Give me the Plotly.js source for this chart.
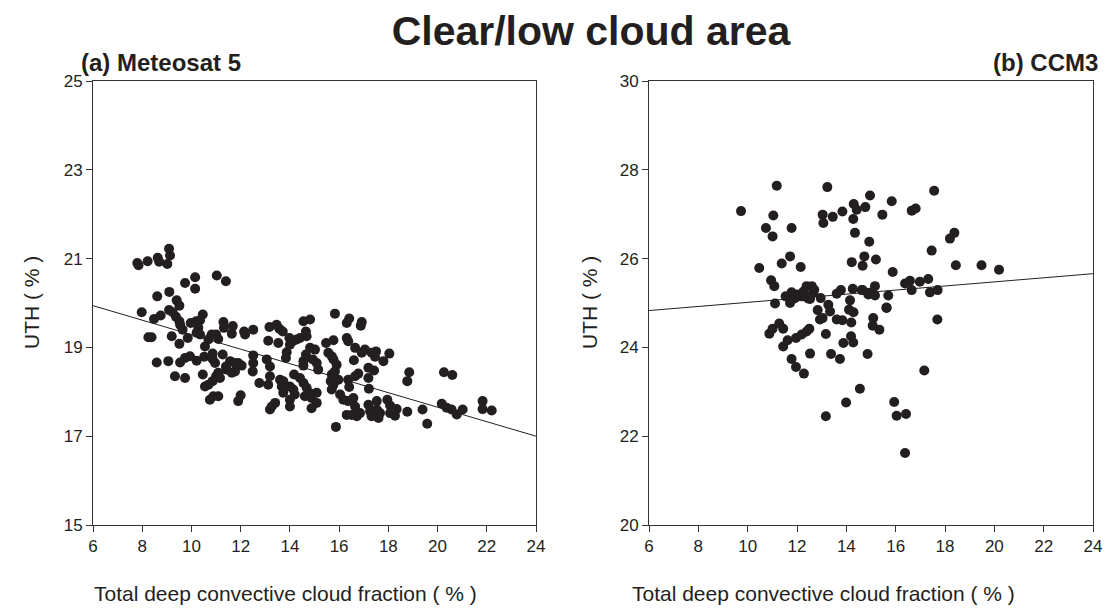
<!DOCTYPE html>
<html>
<head>
<meta charset="utf-8">
<script src="https://cdn.plot.ly/plotly-3.0.1.min.js"></script>
<style>html,body{margin:0;padding:0;background:#fff;}#chart{width:1110px;height:611px;}</style>
</head>
<body>
<div id="chart"></div>
<script>
// (a) Meteosat 5 scatter
const metX = [7.8,7.85,8.22,8.63,8.69,9.09,9.13,9.02,9.74,10.15,10.15,11.03,11.4,8.61,9.1,9.4,9.51,7.98,8.48,8.75,9.09,9.24,9.37,9.51,9.54,9.64,9.97,10.19,10.35,10.46,10.28,10.21,10.35,8.25,8.38,9.2,9.51,9.85,10.55,10.69,10.82,11.0,11.09,11.3,11.32,11.68,11.64,12.14,12.18,12.51,13.17,13.46,13.57,13.71,13.12,13.53,13.98,14.12,14.0,13.87,13.84,14.55,14.82,14.65,14.68,14.41,14.28,14.82,15.02,14.65,14.55,14.55,14.93,15.09,15.15,8.59,9.06,9.54,9.74,9.94,10.21,10.52,10.86,10.86,10.96,11.27,11.4,11.57,11.77,11.9,12.04,11.43,11.77,11.64,11.09,11.0,10.86,10.69,10.55,11.16,9.33,9.74,10.46,10.75,10.89,11.09,12.0,11.9,12.51,12.51,12.49,13.06,13.19,13.19,13.12,12.76,13.6,13.73,13.67,13.73,13.26,13.4,13.19,14.0,14.14,14.2,14.0,14.0,14.17,14.41,14.55,14.68,14.82,14.61,14.88,14.88,15.09,15.09,15.83,16.41,16.31,16.92,16.88,15.77,15.47,16.31,16.37,16.65,16.92,17.05,17.32,17.5,17.46,18.04,17.8,16.6,15.56,15.7,15.77,15.9,15.83,15.7,15.66,15.77,15.7,15.97,16.37,16.65,16.78,16.41,17.19,17.42,17.19,17.21,16.04,16.17,16.37,16.58,16.65,16.31,16.51,16.72,16.85,17.19,17.26,17.32,17.53,17.53,17.66,17.6,17.96,18.07,18.2,18.34,18.27,18.07,18.77,19.39,19.58,18.85,18.77,20.26,20.6,20.17,20.37,20.57,20.78,21.02,21.83,21.83,22.2,15.87];
const metY = [20.9,20.85,20.94,21.02,20.93,21.22,21.07,20.88,20.45,20.58,20.32,20.62,20.49,20.15,20.25,20.06,19.94,19.79,19.64,19.72,19.84,19.79,19.69,19.59,19.51,19.4,19.55,19.59,19.61,19.74,19.44,19.33,19.29,19.23,19.23,19.25,19.08,19.21,19.02,19.18,19.29,19.29,19.19,19.57,19.44,19.48,19.31,19.36,19.29,19.4,19.46,19.51,19.42,19.36,19.15,19.1,19.21,19.14,19.06,18.89,18.76,19.59,19.63,19.36,19.25,19.21,19.18,18.99,18.95,18.84,18.69,18.59,18.73,18.65,18.5,18.66,18.69,18.66,18.76,18.8,18.7,18.79,18.86,18.74,18.65,18.84,18.57,18.69,18.65,18.65,18.59,18.5,18.46,18.43,18.43,18.35,18.24,18.16,18.12,18.31,18.35,18.31,18.39,17.82,17.9,17.9,17.92,17.79,18.82,18.65,18.46,18.73,18.57,18.35,18.16,18.2,18.27,18.24,18.12,17.98,17.67,17.75,17.6,18.12,18.05,17.94,17.82,17.67,18.39,18.31,18.2,18.09,17.97,17.9,17.86,17.63,17.75,17.98,19.76,19.65,19.55,19.57,19.49,19.16,19.1,19.21,19.14,18.99,18.88,18.95,18.88,18.91,18.79,18.86,18.69,18.71,18.88,18.8,18.73,18.61,18.46,18.39,18.24,18.16,18.05,18.27,18.27,18.35,18.41,18.11,18.54,18.48,18.31,18.07,17.94,17.82,17.79,17.86,17.67,17.48,17.48,17.45,17.52,17.71,17.56,17.45,17.79,17.6,17.52,17.41,17.82,17.69,17.6,17.61,17.46,17.52,17.55,17.6,17.28,18.44,18.24,18.44,18.38,17.73,17.64,17.6,17.49,17.6,17.79,17.61,17.58,17.21];
const metFitX = [6, 24];
const metFitY = [19.94, 17.0];

// (b) CCM3 scatter
const ccmX = [9.73,11.18,11.04,10.74,11.01,11.78,13.23,13.04,13.07,13.45,13.84,14.3,14.42,14.77,14.28,14.35,14.96,14.93,10.47,11.38,11.72,12.15,14.22,14.66,14.73,10.95,11.08,11.54,11.78,11.99,12.26,12.39,12.6,12.66,12.53,12.19,12.05,11.72,11.11,12.96,13.27,13.34,12.84,12.93,13.04,13.61,13.78,14.26,14.66,14.93,14.15,14.11,14.29,13.61,13.84,14.2,13.17,14.19,10.88,11.01,11.28,11.44,11.62,11.44,11.96,12.19,12.39,12.5,13.88,14.28,11.78,11.96,12.28,12.53,13.38,13.74,14.86,14.55,13.99,13.17,15.94,16.04,16.42,16.38,15.09,15.07,15.34,15.63,17.69,17.16,15.84,15.46,16.65,16.81,17.56,15.2,18.38,18.2,17.46,15.88,18.44,19.48,20.19,16.38,16.58,16.98,17.32,16.65,17.39,17.7,15.16,15.7,15.63,14.62,14.89,15.16,12.3,12.45,11.9,12.7];
const ccmY = [27.07,27.64,26.97,26.69,26.5,26.69,27.61,26.99,26.8,26.94,27.06,27.23,27.1,27.16,26.89,26.58,27.42,26.38,25.79,25.89,26.05,25.81,25.92,25.84,26.05,25.51,25.38,25.15,25.24,25.19,25.26,25.38,25.38,25.23,25.09,25.15,25.15,25.0,24.99,25.11,24.96,24.81,24.84,24.63,24.66,25.21,25.29,25.32,25.29,25.23,25.06,24.85,24.79,24.63,24.61,24.56,24.3,24.25,24.31,24.42,24.54,24.42,24.16,24.02,24.21,24.29,24.36,24.42,24.1,24.11,23.74,23.56,23.41,23.86,23.85,23.74,23.85,23.07,22.76,22.45,22.77,22.46,22.5,21.62,24.66,24.49,24.4,24.89,24.63,23.48,27.29,26.99,27.08,27.13,27.53,25.98,26.58,26.45,26.18,25.7,25.85,25.85,25.75,25.44,25.5,25.48,25.54,25.29,25.24,25.29,25.38,25.17,24.9,25.29,25.19,25.17,25.2,25.1,25.1,25.3];
const ccmFitX = [6, 24];
const ccmFitY = [24.83, 25.66];

const xTicks = [6, 8, 10, 12, 14, 16, 18, 20, 22, 24];
const metYTicks = [15, 17, 19, 21, 23, 25];
const ccmYTicks = [20, 22, 24, 26, 28, 30];

const INK = '#231f20';
const FONT = 'Arial, "Liberation Sans", Helvetica, sans-serif';
const W = 1110, H = 611;
const px = v => v / W, py = v => 1 - v / H;

const dot = {size: 10, color: INK};
const traces = [
  {x: metX, y: metY, type: 'scatter', mode: 'markers', marker: dot, xaxis: 'x', yaxis: 'y', hoverinfo: 'x+y'},
  {x: metFitX, y: metFitY, type: 'scatter', mode: 'lines', line: {color: INK, width: 1}, xaxis: 'x', yaxis: 'y'},
  {x: ccmX, y: ccmY, type: 'scatter', mode: 'markers', marker: dot, xaxis: 'x2', yaxis: 'y2', hoverinfo: 'x+y'},
  {x: ccmFitX, y: ccmFitY, type: 'scatter', mode: 'lines', line: {color: INK, width: 1}, xaxis: 'x2', yaxis: 'y2'}
];

function xax(dom, anchor) {
  return {domain: dom, anchor: anchor, range: [6, 24], tickvals: xTicks, ticks: 'outside', ticklen: 6,
    tickcolor: '#333', showline: true, linecolor: '#333', linewidth: 1, mirror: true,
    showgrid: false, zeroline: false, tickfont: {family: FONT, size: 17, color: INK}};
}
function yax(dom, anchor, rng, tv) {
  return {domain: dom, anchor: anchor, range: rng, tickvals: tv, ticks: 'outside', ticklen: 6,
    tickcolor: '#333', showline: true, linecolor: '#333', linewidth: 1, mirror: true,
    showgrid: false, zeroline: false, tickfont: {family: FONT, size: 17, color: INK}};
}
const yDom = [py(525), py(81)];

const layout = {
  width: W, height: H,
  margin: {l: 0, r: 0, t: 0, b: 0},
  paper_bgcolor: '#fff', plot_bgcolor: '#fff',
  showlegend: false,
  title: {text: '<b>Clear/low cloud area</b>', x: px(591), xanchor: 'center', y: py(31), yanchor: 'middle',
    font: {family: FONT, size: 41, color: INK}},
  xaxis: xax([px(93), px(536)], 'y'),
  yaxis: yax(yDom, 'x', [15, 25], metYTicks),
  xaxis2: xax([px(649), px(1093)], 'y2'),
  yaxis2: yax(yDom, 'x2', [20, 30], ccmYTicks),
  annotations: [
    {text: '<b>(a) Meteosat 5</b>', xref: 'paper', yref: 'paper', x: px(79), y: py(62), xanchor: 'left', yanchor: 'middle', showarrow: false, font: {family: FONT, size: 24, color: INK}},
    {text: '<b>(b) CCM3</b>', xref: 'paper', yref: 'paper', x: px(1100), y: py(62), xanchor: 'right', yanchor: 'middle', showarrow: false, font: {family: FONT, size: 24, color: INK}},
    {text: 'Total deep convective cloud fraction ( % )', xref: 'paper', yref: 'paper', x: px(285), y: py(593), xanchor: 'center', yanchor: 'middle', showarrow: false, font: {family: FONT, size: 21, color: INK}},
    {text: 'Total deep convective cloud fraction ( % )', xref: 'paper', yref: 'paper', x: px(823), y: py(593), xanchor: 'center', yanchor: 'middle', showarrow: false, font: {family: FONT, size: 21, color: INK}},
    {text: 'UTH ( % )', xref: 'paper', yref: 'paper', x: px(31), y: py(303), xanchor: 'center', yanchor: 'middle', textangle: -90, showarrow: false, font: {family: FONT, size: 21, color: INK}},
    {text: 'UTH ( % )', xref: 'paper', yref: 'paper', x: px(589), y: py(303), xanchor: 'center', yanchor: 'middle', textangle: -90, showarrow: false, font: {family: FONT, size: 21, color: INK}}
  ]
};

Plotly.newPlot('chart', traces, layout, {displayModeBar: false, staticPlot: true});
</script>
</body>
</html>
